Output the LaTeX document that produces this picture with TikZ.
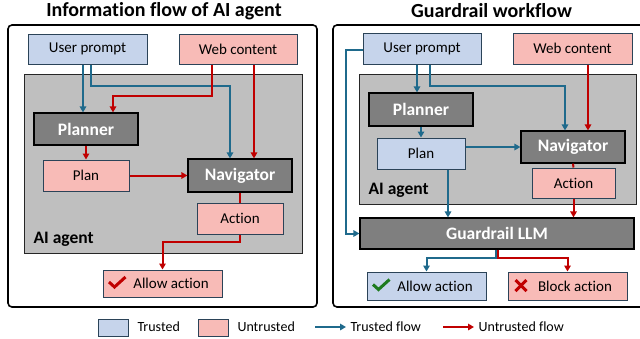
\documentclass[tikz,border=0pt]{standalone}
\usepackage{fontspec}
\setmainfont{Carlito}[Ligatures=NoCommon]
\usetikzlibrary{arrows.meta,calc}
\definecolor{tfill}{HTML}{C6D4EB}
\definecolor{ufill}{HTML}{F8BBB7}
\definecolor{bord}{HTML}{2B4358}
\definecolor{agentgray}{HTML}{BFBFBF}
\definecolor{darkbox}{HTML}{7F7F7F}
\definecolor{tblue}{HTML}{1F6A8C}
\definecolor{ured}{HTML}{C00000}
\definecolor{okgreen}{HTML}{1E7B1E}
\tikzset{
  panel/.style={draw=black,line width=1.6pt,rounded corners=4pt},
  agentarea/.style={draw=black!85,line width=1pt,fill=agentgray,inner sep=0pt},
  tbox/.style={draw=bord,line width=1pt,fill=tfill,inner sep=0pt,font=\fontsize{15}{17}\selectfont},
  ubox/.style={draw=bord,line width=1pt,fill=ufill,inner sep=0pt,font=\fontsize{15}{17}\selectfont},
  dbox/.style={draw=black,line width=1.2pt,fill=darkbox,inner sep=0pt,text=white,font=\fontsize{17.5}{20}\selectfont\bfseries},
  tflow/.style={draw=tblue,line width=2pt,-{Triangle[length=6pt,width=6.5pt]}},
  rflow/.style={draw=ured,line width=2pt,-{Triangle[length=6pt,width=6.5pt]}},
  rline/.style={draw=ured,line width=2pt},
  ttl/.style={font=\fontsize{20}{24}\selectfont\bfseries},
  aglabel/.style={anchor=west,font=\fontsize{17.5}{20}\selectfont\bfseries},
  legtext/.style={anchor=west,font=\fontsize{14}{16}\selectfont},
  legbox/.style={draw=bord,line width=1pt,minimum width=30pt,minimum height=17pt,inner sep=0pt}
}
\begin{document}
\begin{tikzpicture}[x=1pt,y=-1pt]
\useasboundingbox (0,0) rectangle (640,338);
\fill[white] (0,0) rectangle (640,338);

% ---------- Left panel ----------
\node[ttl] (titleL) at (164,11) {Information flow of AI agent};
\draw[panel] (8,25) rectangle (317,307);
\node[agentarea,minimum width=278pt,minimum height=179pt] (agentL) at (163,163.5) {};
\node[aglabel] (aglabL) at (30,239) {AI agent};

\node[tbox,minimum width=119pt,minimum height=30pt] (userL) at (87.5,49) {User prompt};
\node[ubox,minimum width=118pt,minimum height=30pt] (webL) at (238,49) {Web content};
\node[dbox,minimum width=104pt,minimum height=32pt] (plannerL) at (86,129) {Planner};
\node[ubox,minimum width=86pt,minimum height=31pt] (planL) at (86,175.5) {Plan};
\node[dbox,minimum width=104pt,minimum height=33pt] (navL) at (240,175.5) {Navigator};
\node[ubox,minimum width=86pt,minimum height=31pt] (actionL) at (240,218.5) {Action};
\node[ubox,minimum width=119pt,minimum height=27pt] (allowL) at (162.5,283.5) {\hspace*{17pt}Allow action};
\draw[ured,line width=3pt] ($(allowL.west)+(6.5,-1.5)$) -- ($(allowL.west)+(12,3.5)$) -- ($(allowL.west)+(23,-6.5)$);

\draw[tflow] ([xshift=-4.5pt]userL.south) -- ([xshift=-4.5pt]userL.south |- plannerL.north);
\draw[tflow] ([xshift=3.5pt]userL.south) -- ++(0,21) -| ([xshift=-10pt]navL.north);
\draw[rflow] ([xshift=-26pt]webL.south) -- ++(0,31) -| ([xshift=27pt]plannerL.north);
\draw[rflow] ([xshift=16pt]webL.south) -- ([xshift=16pt]webL.south |- navL.north);
\draw[rflow] (plannerL.south) -- (planL.north);
\draw[rflow] (planL.east) -- (navL.west);
\draw[rline] (navL.south) -- (actionL.north);
\draw[rflow] (actionL.south) -- ++(0,7) -| (allowL.north);

% ---------- Right panel ----------
\node[ttl] (titleR) at (491.5,11) {Guardrail workflow};
\draw[panel] (333,25) rectangle (660,307);
\node[agentarea,minimum width=277pt,minimum height=130pt] (agentR) at (497.5,139) {};
\node[aglabel] (aglabR) at (365,190.5) {AI agent};

\node[tbox,minimum width=118pt,minimum height=31pt] (userR) at (422,48.5) {User prompt};
\node[ubox,minimum width=119pt,minimum height=31pt] (webR) at (572.5,48.5) {Web content};
\node[dbox,minimum width=104pt,minimum height=33pt] (plannerR) at (421,109.5) {Planner};
\node[tbox,minimum width=88pt,minimum height=31pt] (planR) at (421,153.5) {Plan};
\node[dbox,minimum width=104pt,minimum height=32pt] (navR) at (573,147) {Navigator};
\node[ubox,minimum width=83pt,minimum height=30pt] (actionR) at (573.5,183) {Action};
\node[dbox,minimum width=274pt,minimum height=31pt] (guardR) at (497,233.5) {Guardrail LLM};
\node[tbox,minimum width=119pt,minimum height=28pt] (allowR) at (426.5,286) {\hspace*{17pt}Allow action};
\node[ubox,minimum width=119pt,minimum height=28pt] (blockR) at (567.5,286) {\hspace*{15pt}Block action};
\draw[okgreen,line width=3pt] ($(allowR.west)+(6.5,-1.5)$) -- ($(allowR.west)+(12,3.5)$) -- ($(allowR.west)+(23,-6.5)$);
\draw[ured,line width=3pt] ($(blockR.west)+(8,-6)$) -- ($(blockR.west)+(19,5)$);
\draw[ured,line width=3pt] ($(blockR.west)+(8,5)$) -- ($(blockR.west)+(19,-6)$);

\draw[tflow] ([xshift=-5pt]userR.south) -- ([xshift=-5pt]userR.south |- plannerR.north);
\draw[tflow] ([xshift=8pt]userR.south) -- ++(0,21) -| ([xshift=-8pt]navR.north);
\draw[rflow] ([xshift=15.5pt]webR.south) -- ([xshift=15.5pt]webR.south |- navR.north);
\draw[tflow] (plannerR.south) -- (planR.north);
\draw[tflow] (planR.east |- navR.west) -- (navR.west);
\draw[rline] (navR.south) -- (actionR.north);
\draw[tflow] ([xshift=27pt]planR.south) -- ([xshift=27pt]planR.south |- guardR.north);
\draw[rflow] (actionR.south) -- (actionR.south |- guardR.north);
\draw[tflow] ([yshift=-1.5pt]userR.west) -- ++(-17,0) |- (guardR.west);
\draw[tflow] ([xshift=-1pt]guardR.south) -- ++(0,8) -| (allowR.north);
\draw[rflow] ([xshift=1pt]guardR.south) -- ++(0,8) -| (blockR.north);

% ---------- Legend ----------
\node[legbox,fill=tfill] (legT) at (113,327.5) {};
\node[legtext] (legTt) at (134,327) {Trusted};
\node[legbox,fill=ufill] (legU) at (213,327.5) {};
\node[legtext] (legUt) at (234,327) {Untrusted};
\coordinate (ltf1) at (315,327);
\coordinate (ltf2) at (346,327);
\draw[tflow] (ltf1) -- (ltf2);
\node[legtext] (legTF) at (347,327) {Trusted flow};
\coordinate (luf1) at (443,327);
\coordinate (luf2) at (474,327);
\draw[rflow] (luf1) -- (luf2);
\node[legtext] (legUF) at (475,327) {Untrusted flow};
\end{tikzpicture}
\end{document}
